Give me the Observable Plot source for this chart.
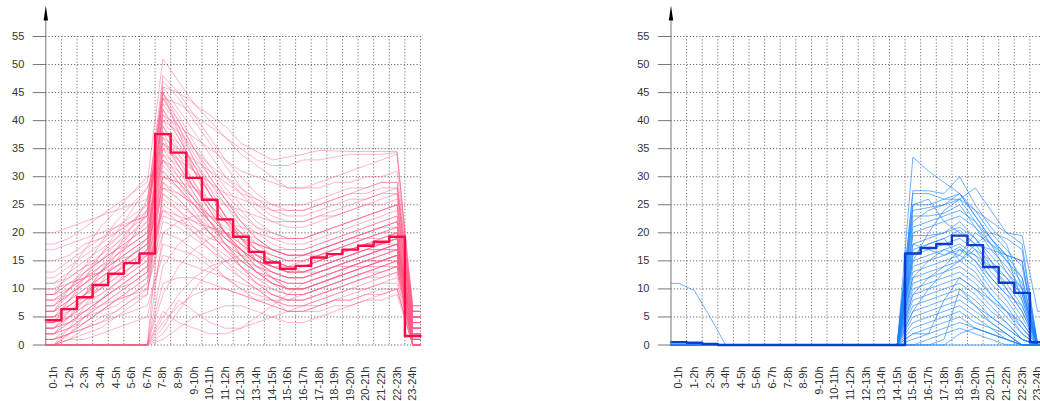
<!DOCTYPE html>
<html><head><meta charset="utf-8">
<script src="https://cdn.jsdelivr.net/npm/d3@7"></script>
<script src="https://cdn.jsdelivr.net/npm/@observablehq/plot@0.6"></script>
<style>
html,body{margin:0;padding:0;background:#fff;}
#wrap{position:relative;width:1040px;height:401px;overflow:hidden;}
.panel{position:absolute;top:0;}
.title{position:absolute;top:-17.2px;font:italic bold 17px "Liberation Sans",Arial,sans-serif;line-height:17px;white-space:nowrap;color:#000;}
</style></head><body>
<div id="wrap"></div>
<script>
const hours = ["0-1h","1-2h","2-3h","3-4h","4-5h","5-6h","6-7h","7-8h","8-9h","9-10h","10-11h","11-12h",
  "12-13h","13-14h","14-15h","15-16h","16-17h","17-18h","18-19h","19-20h","20-21h","21-22h","22-23h","23-24h"];
const yTicks = [0,5,10,15,20,25,30,35,40,45,50,55];
const titleLeft = "Study on parked vehicles at each full hour (%, total)";
const titleRight = "Study on parked vehicles during late hours (%, total)";

const meanLeft = [4.4,6.4,8.5,10.7,12.7,14.6,16.3,37.6,34.3,29.8,25.9,22.4,19.3,16.6,14.7,13.6,14.1,15.6,16.2,17.0,17.7,18.4,19.3,1.6];
const meanRight = [0.5,0.4,0.2,0,0,0,0,0,0,0,0,0,0,0,0,16.3,17.3,18.0,19.5,17.8,13.9,11.1,9.3,0.5];

const seriesLeft = [
  [11,13,15,17,19,21,23,45,41,36,32,28,25,22,20,19,19,20,21,22,23,24,25,5],
  [2,4,6,8,10,12,14,35,31,27,23,20,17,14,12,11,11,12,13,14,15,16,17,1],
  [0,1,2,3,5,7,9,30,29,26,23,20,17,14,12,10,10,11,12,13,14,14,15,0],
  [6,8,10,12,14,16,18,42,38,33,29,25,21,18,16,15,15,16,17,18,19,20,21,3],
  [8,10,13,15,17,19,21,47,44,40,36,32,28,25,23,22,22,23,24,25,26,27,28,6],
  [4,7,9,12,14,16,18,40,36,31,27,23,20,17,15,14,15,16,17,18,19,20,20,2],
  [0,0,0,0,0,0,0,28,27,25,23,21,19,17,16,15,15,16,17,18,19,19,20,1],
  [0,0,0,0,0,0,0,5,9,12,14,15,15,14,13,12,12,13,14,14,15,15,16,0],
  [0,0,0,0,0,0,0,2,6,10,13,15,16,16,15,14,13,13,14,15,16,17,18,2],
  [13,15,17,19,21,23,25,48,45,41,37,33,30,27,25,24,24,25,26,27,28,29,29,7],
  [18,19,21,23,25,27,29,51,47,43,40,37,34,32,30,28,28,29,30,31,32,33,34,7],
  [20,21,22,23,24,25,26,46,45,43,41,39,36,34.5,33,33.5,34,34.7,34.6,34.5,34.5,34.5,34.5,6],
  [17,18,19,20,21,22,23,44,43,41,39,37,35,33,32,32,33,33,33.5,34,34,34,34.3,5],
  [1,3,5,7,9,11,13,33,30,26,22,19,16,13,11,10,10,11,12,13,14,15,16,1],
  [3,5,7,9,11,13,15,36,33,29,25,22,19,16,14,13,13,14,15,16,17,18,19,1],
  [5,7,9,11,13,15,17,39,35,31,27,23,20,17,15,14,14,15,16,17,18,19,20,2],
  [7,9,11,13,15,17,19,43,39,34,30,26,22,19,17,16,16,17,18,19,20,21,22,4],
  [9,11,13,15,17,19,21,44,40,35,31,27,24,21,19,18,18,19,20,21,22,23,24,5],
  [10,12,14,16,18,20,22,46,42,38,34,30,27,24,22,21,21,22,23,24,25,26,27,6],
  [0,2,4,6,8,10,12,31,28,24,20,17,14,11,9,8,8,9,10,11,12,13,14,0],
  [2,3,5,6,8,9,11,25,23,20,17,14,12,10,8,7,7,8,9,10,11,12,13,1],
  [1,2,3,5,6,8,10,20,19,17,15,12,10,8,7,6,6,7,8,9,10,11,12,0],
  [4,5,6,7,8,9,10,22,21,19,17,15,13,11,10,9,9,10,11,12,13,14,15,3],
  [6,9,12,15,18,21,24,38,33,28,24,20,17,15,14,13,14,15,16,17,18,18,19,4],
  [3,6,9,13,16,19,22,34,30,26,22,18,15,13,12,11,11,12,13,14,15,16,17,2],
  [5,8,11,14,17,20,23,41,37,32,27,23,19,16,14,13,13,14,15,16,17,18,19,3],
  [0,3,7,11,15,19,24,44,39,33,28,23,19,15,12,10,10,11,12,14,15,16,17,0],
  [2,5,9,13,17,21,26,39,34,29,24,20,16,13,11,10,10,11,12,13,14,15,16,1],
  [7,10,13,16,19,22,25,45,40,35,30,26,22,19,17,16,16,17,18,19,20,21,22,5],
  [0,0,0,0,0,0,0,9,14,17,19,20,20,19,17,16,16,17,18,19,20,21,22,3],
  [0,0,0,0,0,0,0,14,18,20,21,20,19,18,17,16,16,16,17,17,18,18,19,1],
  [0,1,1,2,3,4,5,18,17,16,14,12,10,9,8,7,7,7,8,8,9,9,10,0],
  [11,12,14,15,17,18,20,37,35,33,31,29,27,26,25,25,25,26,27,28,28,29,29,6],
  [9,10,12,13,15,16,18,35,33,31,29,27,26,25,24,24,24,25,26,27,27,28,28,5],
  [15,16,18,19,20,22,23,41,39,37,35,33,31,30,29,28,28,28,29,29,30,30,31,7],
  [3,4,6,8,10,12,14,29,27,25,22,20,18,16,15,14,14,15,16,17,18,18,19,2],
  [4,6,8,10,12,14,16,32,29,26,23,20,18,16,14,13,13,14,15,16,17,17,18,2],
  [6,8,10,12,14,16,18,27,25,23,21,19,17,15,14,13,13,14,15,16,17,17,18,4],
  [8,10,12,14,16,18,20,33,31,28,25,22,20,18,17,16,16,17,18,19,20,21,21,5],
  [2,4,6,8,10,12,14,24,22,20,18,16,14,12,11,10,10,11,12,13,14,15,16,1],
  [1,2,4,6,8,10,12,26,24,22,20,18,16,14,13,12,12,13,14,15,16,17,17,0],
  [5,7,9,11,13,15,17,30,28,25,22,19,17,15,13,12,12,13,14,15,16,17,18,3],
  [7,9,11,13,16,18,20,36,34,31,28,25,22,20,18,17,17,18,19,20,21,22,23,5],
  [0,0,0,0,0,0,0,4,7,9,10,10,9,8,7,6,6,6,7,7,8,8,9,0],
  [0,0,0,0,0,0,0,1,3,5,6,7,7,6,5,4,4,5,6,7,8,9,10,0],
  [10,11,12,13,14,15,16,24,23,22,21,20,19,18,17,17,17,18,19,20,21,22,23,6],
  [3,5,8,10,13,16,19,28,26,23,20,17,15,13,11,10,10,11,12,13,14,15,16,2],
  [0,2,5,8,11,14,17,37,32,27,22,18,14,11,9,8,8,9,10,11,12,13,14,0],
  [4,8,12,16,20,24,28,33,29,25,21,18,15,13,12,11,11,12,13,14,14,15,15,3],
  [9,13,17,21,24,27,30,31,28,25,22,19,17,15,14,13,13,14,15,16,17,18,18,5],
  [6,10,14,18,22,25,28,36,32,28,24,20,17,15,13,12,12,13,14,15,16,17,17,4],
  [0,0,0,0,0,0,0,3,8,6,4,3,3,4,5,6,7,8,9,10,10,11,11,1],
  [0,0,0,0,0,0,0,6,4,3,2,2,3,5,7,9,11,12,13,14,15,15,16,2],
  [0,1,3,4,6,8,9,27,24,21,18,15,12,10,8,6,6,7,8,8,9,10,10,0],
  [12,14,16,18,20,22,24,40,38,35,32,30,28,26,24,23,23,24,25,26,26,27,27,6],
  [5,6,8,9,11,13,15,34,32,28,25,22,19,17,16,15,16,17,18,19,19,20,21,3],
  [2,3,4,6,7,9,11,29,26,23,20,17,14,12,10,9,9,10,11,12,13,13,14,1],
  [8,9,11,13,15,17,19,38,36,32,29,26,23,21,20,19,19,20,21,22,23,24,25,4],
  [1,2,3,4,5,6,7,16,15,14,13,12,11,10,9,8,8,9,10,11,12,12,13,0],
  [6,7,9,10,12,14,16,42,37,32,27,22,18,15,13,12,12,13,14,15,16,17,18,3],
  [3,4,5,7,9,11,13,45,38,31,25,20,16,13,11,9,9,10,11,12,13,14,15,1],
  [0,0,0,0,0,0,0,20,22,23,23,22,21,20,19,19,19,20,21,22,23,24,25,4],
  [0,0,0,0,0,0,0,11,12,12,11,10,9,8,8,8,9,10,11,12,13,14,14,1],
  [4,5,7,8,10,11,13,23,22,21,19,18,16,15,14,14,14,15,16,17,18,19,20,3],
  [9,11,12,14,15,17,19,30,29,28,26,25,24,23,22,22,22,23,23,24,25,25,26,5]
];

const seriesRight = [
  [0,0,0,0,0,0,0,0,0,0,0,0,0,0,0,33.5,31,29,27,23,19,16,12,0],
  [0,0,0,0,0,0,0,0,0,0,0,0,0,0,0,27.5,27.5,27,30,25,21,18,10,0],
  [0,0,0,0,0,0,0,0,0,0,0,0,0,0,0,27,27,26,26,28,24,20,19.5,6],
  [0,0,0,0,0,0,0,0,0,0,0,0,0,0,0,25,25,26,27,24,20,17,14,0],
  [0,0,0,0,0,0,0,0,0,0,0,0,0,0,0,24,24.5,25,26,22,18,15,12,0],
  [0,0,0,0,0,0,0,0,0,0,0,0,0,0,0,23,23,23.5,25,21,17,14,10,0],
  [0,0,0,0,0,0,0,0,0,0,0,0,0,0,0,21,22,23,24,22,19,16,8,0],
  [0,0,0,0,0,0,0,0,0,0,0,0,0,0,0,19.5,19.5,20,21,19,16,13,9,0],
  [0,0,0,0,0,0,0,0,0,0,0,0,0,0,0,18,19,20,22,19,15,12,8,0],
  [0,0,0,0,0,0,0,0,0,0,0,0,0,0,0,17,18,19,20.5,18,14,11,7,0],
  [0,0,0,0,0,0,0,0,0,0,0,0,0,0,0,16,17,18,19,17,13,10,6,0],
  [0,0,0,0,0,0,0,0,0,0,0,0,0,0,0,15,16,17,18,16,12,9,5,0],
  [0,0,0,0,0,0,0,0,0,0,0,0,0,0,0,14,15,16,17.5,15,11,8,4,0],
  [0,0,0,0,0,0,0,0,0,0,0,0,0,0,0,13,14,15,16,14,10,7,3,0],
  [0,0,0,0,0,0,0,0,0,0,0,0,0,0,0,12,13,14,15,13,9,6,3,0],
  [0,0,0,0,0,0,0,0,0,0,0,0,0,0,0,11,12,13,14,12,9,6,2,0],
  [0,0,0,0,0,0,0,0,0,0,0,0,0,0,0,10,11,12,13,11,8,5,2,0],
  [0,0,0,0,0,0,0,0,0,0,0,0,0,0,0,9,10,11,12,10,7,4,1,0],
  [0,0,0,0,0,0,0,0,0,0,0,0,0,0,0,8,9,10,11,9,6,4,1,0],
  [0,0,0,0,0,0,0,0,0,0,0,0,0,0,0,7,8,9,10,8,5,3,1,0],
  [0,0,0,0,0,0,0,0,0,0,0,0,0,0,0,6,7,8,9,7,5,3,1,0],
  [0,0,0,0,0,0,0,0,0,0,0,0,0,0,0,5,6,7,8,6,4,2,0,0],
  [0,0,0,0,0,0,0,0,0,0,0,0,0,0,0,4,5,6,7,5,3,2,0,0],
  [0,0,0,0,0,0,0,0,0,0,0,0,0,0,0,3,4,5,6,4,3,1,0,0],
  [0,0,0,0,0,0,0,0,0,0,0,0,0,0,0,2,3,4,5,3,2,1,0,0],
  [0,0,0,0,0,0,0,0,0,0,0,0,0,0,0,1,2,3,4,3,2,1,0,0],
  [0,0,0,0,0,0,0,0,0,0,0,0,0,0,0,0,1,2,3,2,1,0,0,0],
  [0,0,0,0,0,0,0,0,0,0,0,0,0,0,0,0,0,1,10,7,4,2,0,0],
  [0,0,0,0,0,0,0,0,0,0,0,0,0,0,0,0,0,0,2,3,2,1,0,0],
  [0,0,0,0,0,0,0,0,0,0,0,0,0,0,0,2,2,8,12,10,8,6,4,0],
  [0,0,0,0,0,0,0,0,0,0,0,0,0,0,0,12,15,17,16,20,18,16,15,0],
  [0,0,0,0,0,0,0,0,0,0,0,0,0,0,0,16,18,19,15,18,20,19,17,0],
  [0,0,0,0,0,0,0,0,0,0,0,0,0,0,0,20,21,22,23,21,18,13,10,0],
  [0,0,0,0,0,0,0,0,0,0,0,0,0,0,0,6,10,13,15,17,15,10,6,0],
  [0,0,0,0,0,0,0,0,0,0,0,0,0,0,0,25,26,22,20,18,17,16,15,0],
  [0,0,0,0,0,0,0,0,0,0,0,0,0,0,0,15,20,24,26,24,22,20,18,0],
  [0,0,0,0,0,0,0,0,0,0,0,0,0,0,0,22,24,25,27,23,19,15,11,0],
  [0,0,0,0,0,0,0,0,0,0,0,0,0,0,0,18,17,16,17,15,12,9,7,0],
  [0,0,0,0,0,0,0,0,0,0,0,0,0,0,0,9,12,14,17,16,14,12,9,0],
  [11,9.7,5,0,0,0,0,0,0,0,0,0,0,0,0,0,0,0,0,0,0,0,0,0]
];

const arrowHead = {draw(ctx){ ctx.moveTo(0,-31); ctx.lineTo(2.2,-16); ctx.lineTo(-2.2,-16); ctx.closePath(); }};
const arrowStem = {draw(ctx){ ctx.moveTo(0,-16); ctx.lineTo(0,0); }};

function thinPoints(series) {
  const pts = [];
  series.forEach((vals, id) => {
    pts.push({id, x: 0, y: vals[0]});
    vals.forEach((v, i) => pts.push({id, x: i + 0.5, y: v}));
    pts.push({id, x: vals.length, y: vals[vals.length - 1]});
  });
  return pts;
}
function stepPoints(vals) {
  const pts = vals.map((v, i) => ({x: i, y: v}));
  pts.push({x: vals.length, y: vals[vals.length - 1]});
  return pts;
}

function panel({series, mean, thin, thinOpacity, bold, marginLeft, width, marginRight}) {
  const bounds = hours.map((h, i) => i + 1);
  return Plot.plot({
    width, height: 401, marginLeft, marginRight, marginTop: 36, marginBottom: 56.5,
    x: {domain: [0, hours.length], axis: null},
    y: {domain: [0, 55], axis: null, label: null},
    style: {fontFamily: "'Liberation Sans', Arial, sans-serif", fontSize: "11px", background: "transparent", overflow: "visible"},
    marks: [
      Plot.ruleY(yTicks, {stroke: "#666", strokeDasharray: "1.2,2", strokeWidth: 1}),
      Plot.ruleX(bounds, {stroke: "#777", strokeDasharray: "1.2,2", strokeWidth: 1}),
      Plot.line(thinPoints(series), {x: "x", y: "y", z: "id", stroke: thin, strokeOpacity: thinOpacity, strokeWidth: 0.9}),
      Plot.line(stepPoints(mean), {x: "x", y: "y", curve: "step-after", stroke: bold, strokeWidth: 2.4}),
      Plot.ruleX([0], {stroke: "#777", strokeWidth: 1}),
      Plot.axisY(yTicks, {anchor: "left", tickSize: 12.5, tickPadding: 9, stroke: "#777", fill: "#333", fontSize: 11, label: null}),
      Plot.dot([0], {frameAnchor: "top-left", symbol: arrowStem, stroke: "#777", fill: "none", strokeWidth: 1}),
      Plot.dot([0], {frameAnchor: "top-left", symbol: arrowHead, fill: "#000", stroke: "none"}),
      Plot.text(hours, {x: (d, i) => i + 0.5, frameAnchor: "bottom", dy: 21.5, rotate: -90, textAnchor: "end", lineAnchor: "middle", fill: "#333", fontSize: 11})
    ]
  });
}

const wrap = document.getElementById("wrap");
const left = panel({series: seriesLeft, mean: meanLeft, thin: "#ff5c86", thinOpacity: 0.5, bold: "#ff0a46", marginLeft: 45.3, width: 520, marginRight: 100});
left.classList.add("panel"); left.style.left = "0px";
const right = panel({series: seriesRight, mean: meanRight, thin: "#1a82ff", thinOpacity: 0.7, bold: "#0a3ed2", marginLeft: 150.5, width: 525.5, marginRight: 0.5});
right.classList.add("panel"); right.style.left = "520px";
wrap.appendChild(left);
wrap.appendChild(right);

const t1 = document.createElement("div"); t1.className = "title"; t1.textContent = titleLeft; t1.style.left = "92px";
const t2 = document.createElement("div"); t2.className = "title"; t2.textContent = titleRight; t2.style.left = "717px";
wrap.appendChild(t1); wrap.appendChild(t2);
</script>
</body></html>
